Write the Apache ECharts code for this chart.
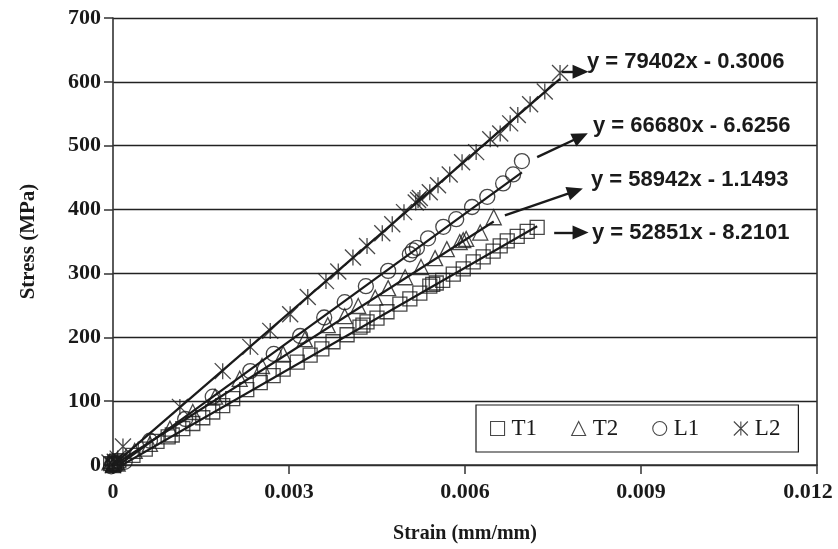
<!DOCTYPE html>
<html>
<head>
<meta charset="utf-8">
<script src="https://cdn.jsdelivr.net/npm/echarts@6/dist/echarts.min.js"></script>
<style>
html,body{margin:0;padding:0;background:#fff;}
#chart{width:838px;height:549px;}
</style>
</head>
<body>
<div id="chart"></div>
<script>
// ---- data ----
const seriesNames = ['T1', 'T2', 'L1', 'L2'];

const t1Strain = [-0.00004, 0, 0.00002, 0.00006, 0.00003, 0.0001, 0.00034, 0.00055, 0.00075, 0.00094, 0.00101, 0.00119, 0.00136, 0.00153, 0.0017, 0.00187, 0.00204, 0.00228, 0.00251, 0.00273, 0.0029, 0.00314, 0.00336, 0.00356, 0.00375, 0.00399, 0.00421, 0.00426, 0.00433, 0.0045, 0.00467, 0.00489, 0.00506, 0.00523, 0.0054, 0.00545, 0.00551, 0.00562, 0.0058, 0.00597, 0.00614, 0.00631, 0.00648, 0.0066, 0.00672, 0.00689, 0.00706, 0.00723];
const t1Stress = [2, 0, 1, 3, 5, 7, 15, 25, 37, 44, 47, 57, 65, 74, 83, 93, 104, 118, 129, 140, 150, 161, 172, 182, 193, 204, 216, 219, 224, 230, 240, 252, 260, 269, 280, 283, 285, 289, 299, 307, 318, 326, 335, 343, 351, 358, 366, 372];

const t2Strain = [-0.00005, 0, 0.00003, 0.00008, 0.00037, 0.00063, 0.00097, 0.00136, 0.00174, 0.00216, 0.00254, 0.0029, 0.00327, 0.00366, 0.00395, 0.00418, 0.00447, 0.00469, 0.00498, 0.00525, 0.00549, 0.00569, 0.00591, 0.00597, 0.00602, 0.00626, 0.00649];
const t2Stress = [6, 0, 4, 2, 22, 33, 57, 83, 107, 135, 155, 174, 197, 219, 233, 249, 262, 277, 294, 310, 324, 338, 349, 352, 354, 364, 388];

const l1Strain = [-0.00003, 0, 0.00004, 0.0002, 0.00063, 0.00123, 0.0017, 0.00234, 0.00274, 0.00319, 0.0036, 0.00395, 0.00431, 0.00469, 0.00506, 0.00511, 0.00518, 0.00537, 0.00563, 0.00585, 0.00612, 0.00638, 0.00665, 0.00682, 0.00697];
const l1Stress = [-2, 0, 3, 5, 38, 72, 107, 147, 174, 202, 231, 255, 280, 304, 330, 336, 340, 355, 373, 385, 404, 420, 441, 455, 476];

const l2Strain = [-0.00006, 0, 0.00003, 0.00008, 0.00017, 0.00114, 0.00187, 0.00234, 0.00268, 0.00302, 0.00332, 0.00363, 0.00384, 0.00409, 0.00433, 0.00459, 0.00476, 0.00496, 0.00516, 0.0052, 0.00523, 0.0054, 0.00554, 0.00574, 0.00595, 0.00619, 0.00643, 0.0066, 0.00677, 0.0069, 0.00711, 0.00736, 0.00762];
const l2Stress = [4, 0, 5, 10, 29, 91, 147, 185, 210, 236, 263, 288, 303, 325, 343, 363, 377, 396, 411, 415, 418, 427, 438, 455, 474, 490, 510, 519, 535, 548, 565, 585, 614];

// linear trendlines shown in the chart (y = slope*x + intercept)
const fitSlope = [52851, 58942, 66680, 79402];
const fitIntercept = [-8.2101, -1.1493, -6.6256, -0.3006];
const fitLabels = ['y = 52851x - 8.2101', 'y = 58942x - 1.1493', 'y = 66680x - 6.6256', 'y = 79402x - 0.3006'];

// annotation arrows (strain, stress) from the data end to the equation
const arrowFrom = [[0.00752, 364], [0.00668, 391], [0.00723, 482], [0.00765, 616]];
const arrowTo   = [[0.00797, 364], [0.00788, 429], [0.00797, 514], [0.00797, 616]];

const xTicks = [0, 0.003, 0.006, 0.009, 0.012];
const yTicks = [0, 100, 200, 300, 400, 500, 600, 700];

// ---- build chart ----
const strains = [t1Strain, t2Strain, l1Strain, l2Strain];
const stresses = [t1Stress, t2Stress, l1Stress, l2Stress];
const starPath = 'path://M0,0L12,12M12,0L0,12M6,0L6,12';
const symbols = ['rect', 'triangle', 'circle', starPath];
const symbolSizes = [14, 15, 15, 16];
const INK = '#1a1a1a';
const SERIF = '"Liberation Serif", "Times New Roman", serif';

const series = [];
seriesNames.forEach((name, i) => {
  series.push({
    name: name,
    type: 'scatter',
    data: strains[i].map((s, k) => [s, stresses[i][k]]),
    symbol: symbols[i],
    symbolSize: symbolSizes[i],
    clip: false,
    silent: true,
    itemStyle: { color: 'rgba(255,255,255,0)', borderColor: INK, borderWidth: 1.3 },
    z: 2
  });
});
seriesNames.forEach((name, i) => {
  const xs = strains[i].filter(v => v >= 0);
  const xMax = Math.max.apply(null, xs);
  const xMin = Math.min.apply(null, xs);
  series.push({
    name: name + ' fit',
    type: 'line',
    data: [[xMin, fitSlope[i] * xMin + fitIntercept[i]], [xMax, fitSlope[i] * xMax + fitIntercept[i]]],
    showSymbol: false,
    symbol: 'none',
    silent: true,
    clip: true,
    lineStyle: { color: INK, width: 2.2 },
    z: 3,
    markLine: {
      silent: true,
      symbol: ['none', 'triangle'],
      symbolSize: [14, 16],
      lineStyle: { color: INK, width: 2.4, type: 'solid' },
      itemStyle: { color: INK },
      label: { show: false },
      data: [[{ coord: arrowFrom[i] }, { coord: arrowTo[i] }]]
    }
  });
});

const eqPos = [[592, 233], [591, 180], [593, 126], [587, 62]];
const graphics = fitLabels.map((t, i) => ({
  type: 'text',
  x: eqPos[i][0],
  y: eqPos[i][1],
  silent: true,
  style: { text: t, font: 'bold 22px "Liberation Sans", Arial, sans-serif', fill: INK, verticalAlign: 'middle', align: 'left' }
}));

const chart = echarts.init(document.getElementById('chart'), null, { renderer: 'canvas' });
chart.setOption({
  animation: false,
  backgroundColor: '#fff',
  grid: { left: 113, right: 21, top: 18, bottom: 83, containLabel: false },
  xAxis: {
    type: 'value',
    min: xTicks[0],
    max: xTicks[xTicks.length - 1],
    interval: xTicks[1] - xTicks[0],
    name: 'Strain (mm/mm)',
    nameLocation: 'middle',
    nameGap: 59,
    nameTextStyle: { fontFamily: SERIF, fontWeight: 'bold', fontSize: 20, color: INK },
    axisLine: { show: true, onZero: false, lineStyle: { color: '#333', width: 1.6 } },
    axisTick: { show: true, inside: false, length: 9, lineStyle: { color: '#333', width: 1.5 } },
    axisLabel: {
      margin: 16,
      color: INK,
      fontFamily: SERIF,
      fontWeight: 'bold',
      fontSize: 22,
      formatter: v => (v === 0 ? '0' : (v === 0.012 ? '{last|' + v.toFixed(3) + '}' : v.toFixed(3))),
      rich: { last: { fontFamily: SERIF, fontWeight: 'bold', fontSize: 22, color: INK, padding: [0, 18, 0, 0] } }
    },
    splitLine: { show: false }
  },
  yAxis: [{
    type: 'value',
    min: yTicks[0],
    max: yTicks[yTicks.length - 1],
    interval: yTicks[1] - yTicks[0],
    name: 'Stress (MPa)',
    nameLocation: 'middle',
    nameGap: 74,
    nameTextStyle: { fontFamily: SERIF, fontWeight: 'bold', fontSize: 21, color: INK },
    axisLine: { show: true, lineStyle: { color: '#333', width: 1.6 } },
    axisTick: { show: true, inside: false, length: 9, lineStyle: { color: '#333', width: 1.5 } },
    axisLabel: {
      margin: 12,
      color: INK,
      fontFamily: SERIF,
      fontWeight: 'bold',
      fontSize: 22
    },
    splitLine: { show: true, lineStyle: { color: '#222', width: 1.3 } }
  }, {
    type: 'value',
    position: 'right',
    min: yTicks[0],
    max: yTicks[yTicks.length - 1],
    interval: yTicks[1] - yTicks[0],
    axisLine: { show: true, lineStyle: { color: '#333', width: 1.6 } },
    axisTick: { show: false },
    axisLabel: { show: false },
    splitLine: { show: false }
  }],
  legend: {
    data: seriesNames.map((n, i) => ({ name: n, icon: symbols[i] })),
    left: 476,
    top: 405,
    orient: 'horizontal',
    padding: [12, 18, 12, 14],
    itemGap: 34,
    itemWidth: 14,
    itemHeight: 14,
    borderColor: INK,
    borderWidth: 1.2,
    backgroundColor: '#fff',
    selectedMode: false,
    textStyle: { fontFamily: SERIF, fontSize: 23, color: INK, padding: [2, 0, 0, 2] },
    itemStyle: { color: 'rgba(255,255,255,0)', borderColor: INK, borderWidth: 1.1 }
  },
  graphic: graphics,
  series: series
});
</script>
</body>
</html>
